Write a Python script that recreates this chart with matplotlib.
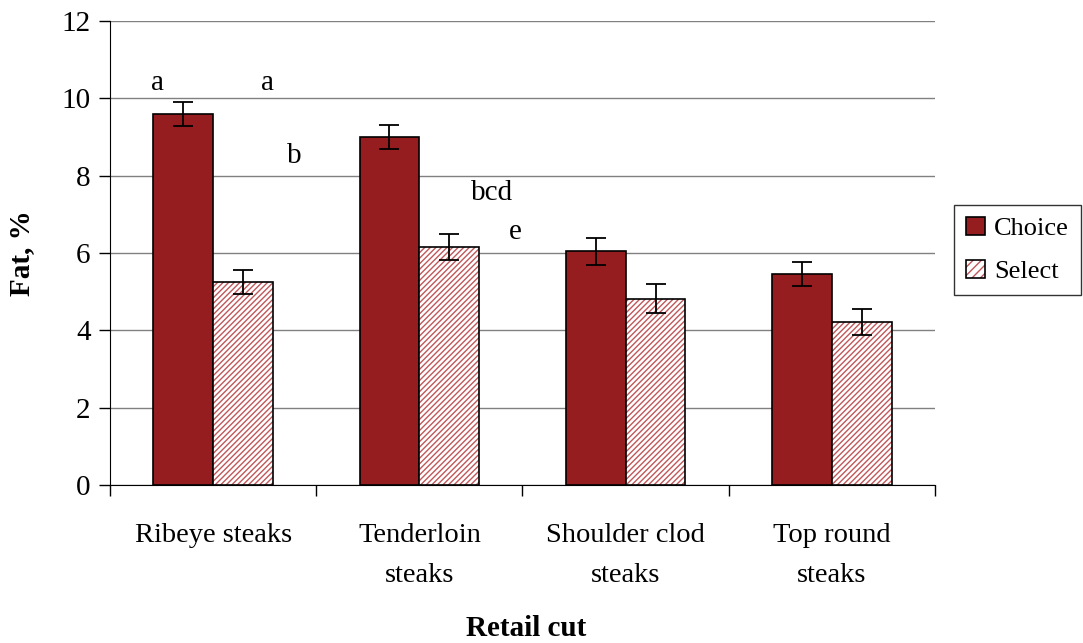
import numpy as np
import matplotlib.pyplot as plt
from matplotlib.patches import Patch
from matplotlib.legend_handler import HandlerTuple

# data
cuts = ["Ribeye steaks", "Tenderloin\nsteaks", "Shoulder clod\nsteaks", "Top round\nsteaks"]
choice = [9.6, 9.0, 6.05, 5.45]
choice_err = [0.31, 0.32, 0.35, 0.31]
select = [5.25, 6.15, 4.82, 4.22]
select_err = [0.30, 0.33, 0.37, 0.34]

# significance letters (text, x, y)
letters = ["a", "a", "b", "bcd", "e"]
letters_x = [-0.27, 0.265, 0.395, 1.35, 1.465]
letters_y = [10.4, 10.4, 8.5, 7.55, 6.55]

plt.rcParams['font.family'] = ['Liberation Serif', 'DejaVu Serif']

dark_red = '#951c1f'
hatch_red = '#c0575a'

fig = plt.figure(figsize=(10.83, 6.43), dpi=100)
ax = fig.add_axes([0.1016, 0.2457, 0.7617, 0.7216])

x = np.arange(len(cuts))
w = 0.29

ax.bar(x - w / 2, choice, w, color=dark_red, edgecolor='black', linewidth=1.2, zorder=3)
ax.bar(x + w / 2, select, w, color='white', edgecolor=hatch_red, hatch='//////', linewidth=0, zorder=3)
ax.bar(x + w / 2, select, w, fill=False, edgecolor='black', linewidth=1.2, zorder=4)

ax.errorbar(x - w / 2, choice, yerr=choice_err, fmt='none', ecolor='black', capsize=7, elinewidth=1.3, capthick=1.3, zorder=5)
ax.errorbar(x + w / 2, select, yerr=select_err, fmt='none', ecolor='black', capsize=7, elinewidth=1.3, capthick=1.3, zorder=5)

for t, lx, ly in zip(letters, letters_x, letters_y):
    ax.text(lx, ly, t, fontsize=21, ha='center', va='center')

ax.set_xlim(-0.5, len(cuts) - 0.5)
ax.set_ylim(0, 12)
ax.set_yticks(np.arange(0, 13, 2))
ax.yaxis.grid(True, color='#808080', linewidth=1.0, zorder=0)
ax.set_axisbelow(True)

ax.set_xticks(np.arange(-0.5, len(cuts), 1.0))
ax.set_xticklabels([])
ax.set_xticks(x, minor=True)
ax.set_xticklabels(cuts, minor=True, fontsize=20.5, linespacing=1.8)
ax.tick_params(axis='x', which='minor', length=0, pad=27)
ax.tick_params(axis='x', which='major', length=8, width=1, direction='out')
ax.tick_params(axis='y', length=8, width=1, direction='out', labelsize=21, pad=6)

ax.spines['top'].set_visible(False)
ax.spines['right'].set_visible(False)

fig.text(22 / 1083, 1 - 253 / 643, "Fat, %", fontsize=21, fontweight='bold',
         rotation=90, ha='center', va='center')
fig.text(526 / 1083, 1 - 628 / 643, "Retail cut", fontsize=21, fontweight='bold',
         ha='center', va='center')

h_choice = Patch(facecolor=dark_red, edgecolor='black', linewidth=1.2)
h_sel_fill = Patch(facecolor='white', edgecolor=hatch_red, hatch='////', linewidth=0)
h_sel_edge = Patch(fill=False, edgecolor='black', linewidth=1.2)
leg = fig.legend([h_choice, (h_sel_fill, h_sel_edge)], ["Choice", "Select"],
                 handler_map={tuple: HandlerTuple(ndivide=1, pad=0)},
                 loc='center', bbox_to_anchor=(0.9395, 0.6112), fontsize=19,
                 frameon=True, fancybox=False, edgecolor='black', handlelength=0.7,
                 handleheight=0.7, handletextpad=0.35, borderpad=0.45, labelspacing=0.75,
                 borderaxespad=0)
leg.get_frame().set_linewidth(1.0)

fig.savefig('out.png', dpi=100)
